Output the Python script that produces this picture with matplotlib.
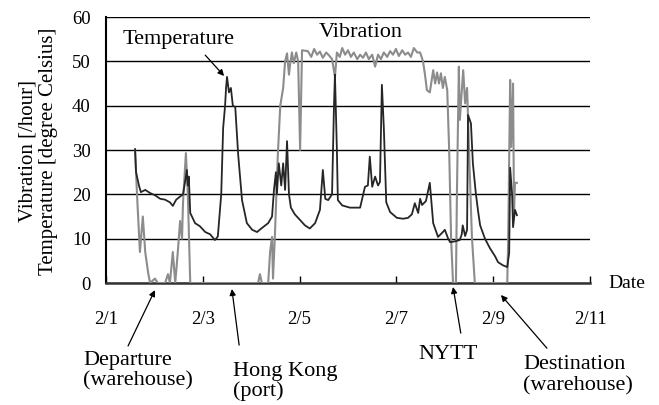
import matplotlib
matplotlib.use("Agg")
import matplotlib.pyplot as plt

plt.rcParams['font.family'] = ['Liberation Serif', 'DejaVu Serif']

# days since 2/1
temp_day = [0.60, 0.62, 0.68, 0.72, 0.81, 0.91, 1.01, 1.12, 1.22, 1.32, 1.38, 1.45,
            1.53, 1.59, 1.63, 1.67, 1.69, 1.71, 1.74, 1.84, 1.94, 2.05, 2.15, 2.25,
            2.31, 2.38, 2.42, 2.46, 2.48, 2.50, 2.54, 2.58, 2.62, 2.67, 2.73, 2.81,
            2.91, 3.02, 3.12, 3.22, 3.35, 3.43, 3.47, 3.51, 3.53, 3.57, 3.62, 3.66,
            3.70, 3.74, 3.78, 3.82, 3.90, 4.01, 4.11, 4.21, 4.32, 4.42, 4.48, 4.53,
            4.59, 4.67, 4.71, 4.73, 4.77, 4.79, 4.88, 5.04, 5.25, 5.35, 5.41, 5.45,
            5.50, 5.56, 5.62, 5.66, 5.70, 5.74, 5.79, 5.87, 6.01, 6.14, 6.24, 6.32,
            6.38, 6.45, 6.49, 6.53, 6.61, 6.69, 6.76, 6.86, 6.96, 7.00, 7.07, 7.11,
            7.21, 7.31, 7.35, 7.37, 7.42, 7.46, 7.48, 7.54, 7.58, 7.64, 7.69, 7.73,
            7.83, 7.93, 8.04, 8.10, 8.20, 8.29, 8.33, 8.35, 8.39, 8.41, 8.45, 8.49]
temp_val = [30.2, 25, 22, 20.5, 21, 20.3, 19.8, 19, 18.8, 18.2, 17.4, 18.8,
            19.5, 20, 22.6, 25.5, 22, 24, 15.8, 13.5, 12.8, 11.5, 11, 9.7,
            10.5, 20, 35, 40, 44, 46.5, 43, 44, 40, 39.7, 29, 18.7,
            13.5, 12, 11.5, 12.4, 13.5, 15, 21, 25, 20, 27, 22, 27,
            21, 32, 20, 17, 15.5, 14.2, 13, 12.3, 13.5, 16.5, 25.5, 19,
            18.7, 20, 40, 47, 30, 18.7, 17.5, 17, 17, 21.7, 22, 28.5,
            21.7, 24, 22, 22.8, 44.7, 35, 18.2, 16, 14.7, 14.5, 14.7, 15.5,
            18, 15.8, 19, 17.6, 18.5, 22.6, 13.5, 10.4, 11.5, 12, 10, 9.2,
            9.4, 9.7, 11, 13, 10.6, 12, 37.9, 36, 27, 20.3, 16, 13,
            10, 7.9, 6, 4.7, 4, 3.6, 6.8, 26, 20, 12.6, 16.5, 15.3]

vib_day = [0.60, 0.64, 0.70, 0.76, 0.81, 0.87, 0.91, 1.01, 1.07, 1.22, 1.28, 1.32,
           1.38, 1.43, 1.49, 1.53, 1.57, 1.59, 1.65, 1.69, 1.74, 3.14, 3.18, 3.22,
           3.35, 3.39, 3.43, 3.45, 3.49, 3.55, 3.60, 3.66, 3.68, 3.70, 3.74, 3.78,
           3.80, 3.84, 3.88, 3.93, 3.97, 4.01, 4.05, 4.17, 4.24, 4.30, 4.36, 4.42,
           4.48, 4.55, 4.61, 4.67, 4.73, 4.77, 4.83, 4.88, 4.94, 5.00, 5.06, 5.12,
           5.19, 5.25, 5.31, 5.37, 5.43, 5.50, 5.56, 5.62, 5.68, 5.74, 5.81, 5.87,
           5.93, 5.99, 6.05, 6.12, 6.18, 6.24, 6.30, 6.36, 6.43, 6.49, 6.55, 6.59,
           6.63, 6.69, 6.76, 6.80, 6.84, 6.88, 6.92, 6.96, 7.00, 7.05, 7.09, 7.13,
           7.17, 7.23, 7.25, 7.29, 7.31, 7.38, 7.42, 7.46, 7.50, 7.56, 7.62, 8.29,
           8.31, 8.35, 8.37, 8.41, 8.43, 8.45, 8.49]
vib_val = [30, 20, 7, 15, 7, 2.3, 0, 1, 0, 0, 2, 0,
           7, 0, 8, 14, 10, 18, 29.3, 20, 0, 0, 2, 0,
           0, 7, 10.4, 1, 11, 29, 40, 44, 47, 50, 51.8, 47,
           49, 52, 49.6, 52, 50, 30, 52.5, 52.3, 51.0, 52.8, 51.5, 52.2,
           50.8, 52.0, 51.3, 50.5, 46.5, 52, 51, 53, 51.5, 52.5, 51, 52,
           50.5, 51.5, 50.8, 52, 50.5, 51.5, 48.8, 51.5, 50.5, 52, 51, 52.3,
           51.5, 52.8, 51.2, 52.5, 51.5, 52, 51, 53, 52, 52, 50, 47,
           43.5, 43, 48, 45, 47.5, 45, 47.3, 44, 46.5, 43.5, 30, 10,
           0, 0, 20, 48.8, 36.8, 48, 40.5, 44, 30, 10.4, 0, 0,
           10, 45.8, 30.7, 45, 15.8, 22.6, 22.6]

tick_pos = [0, 2, 4, 6, 8, 10]
tick_labels = ['2/1', '2/3', '2/5', '2/7', '2/9', '2/11']

fig = plt.figure(figsize=(6.59, 4.05), dpi=100)
ax = fig.add_axes([0.1609, 0.3012, 0.7344, 0.6568])

ax.plot(vib_day, vib_val, color='#8c8c8c', lw=1.5, zorder=3)
ax.plot(temp_day, temp_val, color='#262626', lw=1.3, zorder=4)

ax.set_xlim(0, 10)
ax.set_ylim(0, 60)
ax.set_yticks(range(0, 61, 10))
ax.yaxis.grid(True, color='black', lw=1)
ax.set_axisbelow(True)
ax.set_xticks(tick_pos)
ax.set_xticklabels(tick_labels)
ax.tick_params(axis='x', direction='in', length=5, width=1, pad=20, labelsize=13.5)
ax.tick_params(axis='y', length=0, pad=11, labelsize=13.5)
for s in ['top', 'right']:
    ax.spines[s].set_visible(False)
ax.spines['bottom'].set_linewidth(1.8)
ax.spines['bottom'].set_color('#333333')
ax.spines['left'].set_linewidth(1.5)

fig.text(0.0584, 0.627, 'Vibration [/hour]\nTemperature [degree Celsius]',
         rotation=90, ha='center', va='center', fontsize=15, linespacing=1.1)

ax.text(10.37, 0, 'Date', ha='left', va='center', fontsize=14, clip_on=False)
ax.text(5.27, 56.6, 'Vibration', ha='center', va='center', fontsize=16)

arrow = dict(arrowstyle='-|>', color='black', lw=0.9, mutation_scale=9,
             shrinkA=0, shrinkB=0)
ax.text(1.50, 55.0, 'Temperature', ha='center', va='center', fontsize=16)
ax.annotate('', xy=(2.44, 46.7), xytext=(2.05, 51.4), arrowprops=arrow)

ax.text(-0.475, -19.7, 'Departure\n(warehouse)', ha='left', va='center',
        fontsize=16, linespacing=1.1, clip_on=False)
ax.annotate('', xy=(1.01, -1.6), xytext=(0.455, -14.2), arrowprops=arrow,
            annotation_clip=False)

ax.text(2.62, -22.2, 'Hong Kong\n(port)', ha='left', va='center',
        fontsize=16, linespacing=1.0, clip_on=False)
ax.annotate('', xy=(2.60, -1.35), xytext=(2.75, -14.0), arrowprops=arrow,
            annotation_clip=False)

ax.text(7.07, -16.2, 'NYTT', ha='center', va='center', fontsize=16, clip_on=False)
ax.annotate('', xy=(7.17, -0.9), xytext=(7.33, -11.3), arrowprops=arrow,
            annotation_clip=False)

ax.text(8.62, -20.8, 'Destination\n(warehouse)', ha='left', va='center',
        fontsize=16, linespacing=1.1, clip_on=False)
ax.annotate('', xy=(8.16, -2.7), xytext=(9.11, -14.7), arrowprops=arrow,
            annotation_clip=False)

fig.savefig('out.png', dpi=100)
